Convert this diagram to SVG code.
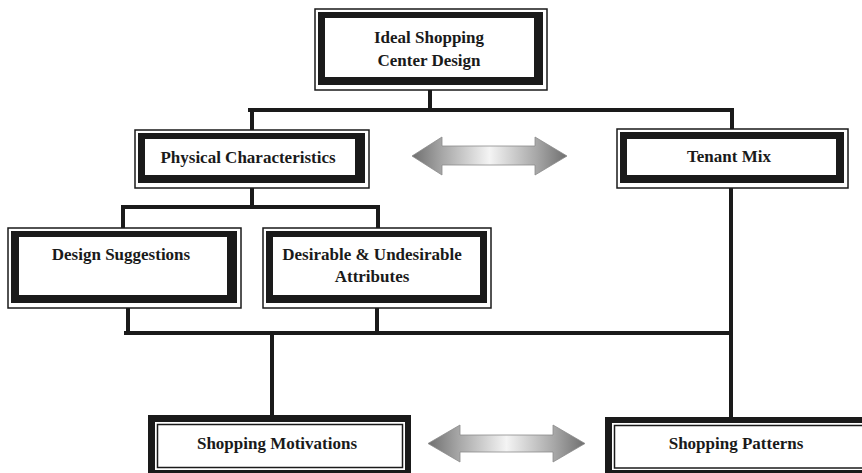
<svg xmlns="http://www.w3.org/2000/svg" width="862" height="473" viewBox="0 0 862 473">
<defs>
<style>
.bg{fill:#fff}
.thin{fill:#fff;stroke:#1a1a1a;stroke-width:1.5}
.band{fill:#1a1a1a}
.inner{fill:#fff}
.thinin{fill:none;stroke:#1a1a1a;stroke-width:1.5}
.lbl{font-family:"Liberation Serif","Times New Roman",serif;font-weight:bold;font-size:17px;fill:#1a1a1a;text-anchor:middle}
.conn{stroke:#1a1a1a;stroke-width:4;fill:none;stroke-linecap:square}
.arr{fill:url(#ag);stroke:#8a8a8a;stroke-width:0.8}
</style>
<linearGradient id="ag" x1="0" y1="0" x2="1" y2="0">
<stop offset="0" stop-color="#6f6f6f"/>
<stop offset="0.2" stop-color="#a8a8a8"/>
<stop offset="0.5" stop-color="#f4f4f4"/>
<stop offset="0.8" stop-color="#a8a8a8"/>
<stop offset="1" stop-color="#6f6f6f"/>
</linearGradient>
</defs>
<rect class="bg" x="0" y="0" width="862" height="473"/>

<g id="connectors">
<path class="conn" d="M430 90 V110 M250 110 H732 M252 110 V130 M732 110 V129"/>
<path class="conn" d="M252 188 V207 M123 207 H378 M123 207 V228 M378 207 V228"/>
<path class="conn" d="M128 308 V333 M377 308 V333 M126 333 H731 M272 333 V415 M731 188 V417"/>
</g>

<g id="ideal">
<rect class="thin" x="315" y="9" width="232" height="81"/>
<rect class="band" x="318" y="12" width="225" height="73"/>
<rect class="inner" x="325" y="18" width="209" height="59"/>
<text class="lbl" x="429" y="43">Ideal Shopping</text>
<text class="lbl" x="429" y="66">Center Design</text>
</g>

<g id="physical">
<rect class="thin" x="135" y="130" width="234" height="58"/>
<rect class="band" x="138" y="133" width="227" height="50"/>
<rect class="inner" x="145" y="139" width="210" height="36"/>
<text class="lbl" x="248" y="163">Physical Characteristics</text>
</g>

<g id="tenant">
<rect class="thin" x="617" y="129" width="231" height="59"/>
<rect class="band" x="620" y="132" width="224" height="51"/>
<rect class="inner" x="627" y="139" width="209" height="36"/>
<text class="lbl" x="729" y="162">Tenant Mix</text>
</g>

<g id="design">
<rect class="thin" x="8" y="228" width="233" height="80"/>
<rect class="band" x="11" y="231" width="226" height="72"/>
<rect class="inner" x="19" y="237" width="208" height="58"/>
<text class="lbl" x="121" y="260">Design Suggestions</text>
</g>

<g id="desirable">
<rect class="thin" x="263" y="228" width="228" height="80"/>
<rect class="band" x="266" y="231" width="221" height="72"/>
<rect class="inner" x="273" y="237" width="207" height="58"/>
<text class="lbl" x="372" y="260">Desirable &amp; Undesirable</text>
<text class="lbl" x="372" y="282">Attributes</text>
</g>

<g id="motivations">
<rect class="band" x="148" y="415" width="263" height="62"/>
<rect class="inner" x="155" y="422" width="250" height="48"/>
<rect class="thinin" x="157.5" y="424.5" width="245" height="43"/>
<text class="lbl" x="277" y="449">Shopping Motivations</text>
</g>

<g id="patterns">
<rect class="band" x="605" y="417" width="262" height="60"/>
<rect class="inner" x="612" y="423" width="250" height="47"/>
<rect class="thinin" x="614.5" y="425.5" width="250" height="42.5"/>
<text class="lbl" x="736" y="449">Shopping Patterns</text>
</g>

<g id="arrow-top">
<path class="arr" d="M412 156 L442 137 L442 146 L535 146 L535 137 L567 156 L535 175 L535 165 L442 165 L442 175 Z"/>
</g>

<g id="arrow-bottom">
<path class="arr" d="M428 443.5 L460 425 L460 435 L553 435 L553 425 L585 443.5 L553 462 L553 452 L460 452 L460 462 Z"/>
</g>
</svg>
